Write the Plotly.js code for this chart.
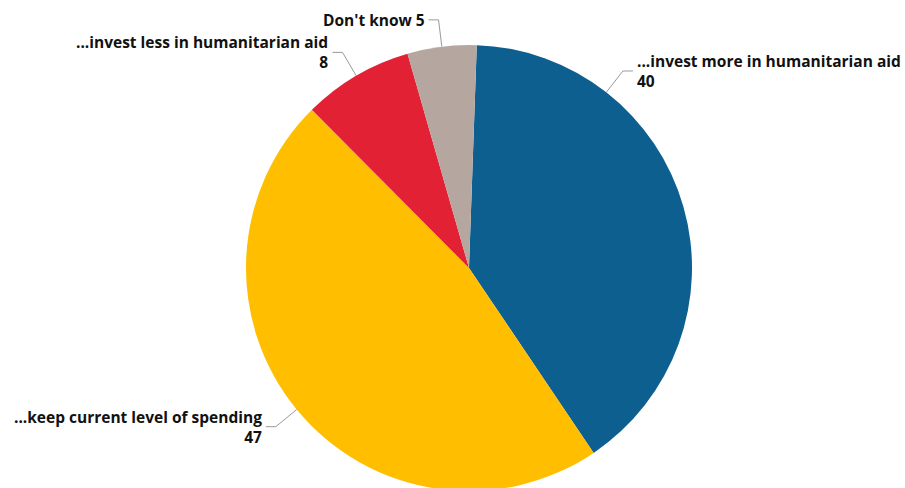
<!DOCTYPE html>
<html>
<head>
<meta charset="utf-8">
<script src="https://cdn.plot.ly/plotly-3.0.1.min.js"></script>
<style>
  html, body { margin: 0; padding: 0; background: #fff; overflow: hidden; }
  #chart { width: 905px; height: 491px; }
</style>
</head>
<body>
<div id="chart"></div>
<script>
// ---- data ----
const labels = [
  "...invest more in humanitarian aid",
  "...keep current level of spending",
  "...invest less in humanitarian aid",
  "Don't know"
];
const values = [40, 47, 8, 5];
const colors = ["#0C5F8F", "#FFBE00", "#E32134", "#B5A79F"];

// ---- layout config ----
const W = 905, H = 491;
const CX = 469, CY = 268, R = 223;
const ROTATION = 2;           // degrees clockwise from 12 o'clock
const LABEL_RADIUS = R + 27;  // elbow distance from centre
const ELBOW_LEN = 10;
const TEXT_GAP = 3;
const labelAngleOverride = {0: 38};      // label moved to fit
const singleLine = {3: true};            // "Don't know 5" on one line

const px = x => x / W;
const py = y => 1 - y / H;

const total = values.reduce((a, b) => a + b, 0);
const annotations = [];
const shapes = [];
let acc = 0;
values.forEach((v, i) => {
  const mid = ROTATION + (acc + v / 2) / total * 360;
  acc += v;
  const ang = (labelAngleOverride[i] !== undefined ? labelAngleOverride[i] : mid) * Math.PI / 180;
  const sx = Math.sin(ang), sy = -Math.cos(ang);
  const x0 = CX + R * sx, y0 = CY + R * sy;
  const ex = CX + LABEL_RADIUS * sx, ey = CY + LABEL_RADIUS * sy;
  const right = sx >= 0;
  const hx = ex + (right ? ELBOW_LEN : -ELBOW_LEN);
  shapes.push({
    type: 'path', xref: 'paper', yref: 'paper',
    path: `M${px(x0)},${py(y0)} L${px(ex)},${py(ey)} L${px(hx)},${py(ey)}`,
    line: {color: '#9a9a9a', width: 1}
  });
  const txt = singleLine[i] ? `${labels[i]} ${v}` : `${labels[i]}<br>${v}`;
  annotations.push({
    xref: 'paper', yref: 'paper',
    x: px(hx + (right ? TEXT_GAP : -TEXT_GAP)), y: py(ey),
    xanchor: right ? 'left' : 'right', yanchor: 'middle',
    align: right ? 'left' : 'right',
    text: `<b>${txt}</b>`, showarrow: false, borderpad: 0,
    font: {family: 'Open Sans, sans-serif', size: 15.5, color: '#111'}
  });
});

const trace = {
  type: 'pie',
  labels: labels,
  values: values,
  sort: false,
  direction: 'clockwise',
  rotation: ROTATION,
  marker: {colors: colors, line: {width: 0}},
  textinfo: 'none',
  hoverinfo: 'label+value',
  domain: {x: [px(CX - R), px(CX + R)], y: [py(CY + R), py(CY - R)]},
  showlegend: false
};

Plotly.newPlot('chart', [trace], {
  width: W, height: H,
  margin: {l: 0, r: 0, t: 0, b: 0},
  paper_bgcolor: '#fff',
  showlegend: false,
  annotations: annotations,
  shapes: shapes
}, {displayModeBar: false, staticPlot: true});
</script>
</body>
</html>
